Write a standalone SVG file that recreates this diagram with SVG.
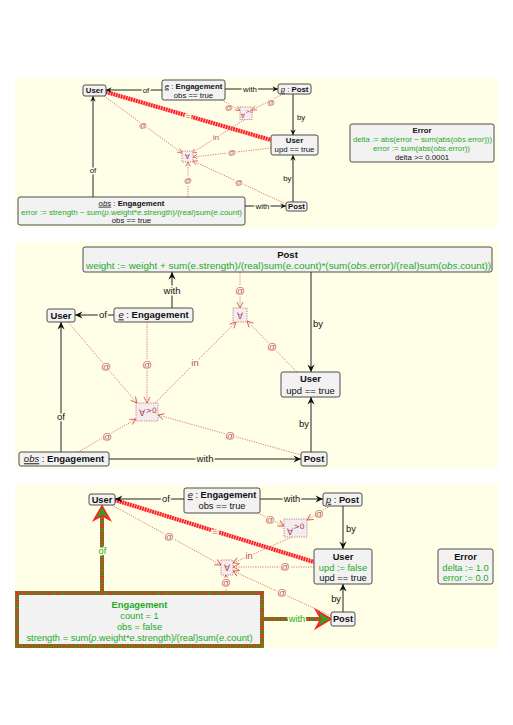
<svg xmlns="http://www.w3.org/2000/svg" width="513" height="725" viewBox="0 0 513 725">
<style>
text{font-family:"Liberation Sans",Arial,sans-serif;fill:#111}
.p1{font-size:7.8px}
.p2{font-size:9.5px}
.p3{font-size:9.3px}
.b{font-weight:bold}
.i{font-style:italic}
.u{font-style:italic;text-decoration:underline}
.g{fill:#1faa1f}
.m{text-anchor:middle}
.e{text-anchor:end}
.node{fill:#f2f2f2;stroke:#3a3a3a;stroke-width:0.9}
.panel{fill:#fffee6}
.edge{stroke:#222;stroke-width:1;fill:none}
.dot{stroke:#d35a5a;stroke-width:0.8;stroke-dasharray:1.2 1.2;fill:none}
.rl{fill:#c0504d}
.h{paint-order:stroke;stroke:#fffee6;stroke-width:3px;stroke-linejoin:round}
.q{fill:#f1edf1;stroke:#d35a5a;stroke-width:0.8;stroke-dasharray:1.2 1.2}
.qt{font-family:"DejaVu Sans",sans-serif;fill:#b04040;text-anchor:middle}
.del1{stroke:#ffb0b0;stroke-width:4}
.del2{stroke:#ff1a1a;stroke-width:4;stroke-dasharray:1.6 1}
.newg{stroke:#22aa22;stroke-width:4;fill:none}
.newr{stroke:#ff2020;stroke-width:4;stroke-dasharray:1.3 1.3;fill:none}
</style>
<defs>
<marker id="ba" viewBox="-8 -4 9 8" refX="0" refY="0" markerWidth="9" markerHeight="8" markerUnits="userSpaceOnUse" orient="auto"><path d="M0,0 L-7.5,-3.6 L-5,0 L-7.5,3.6 z" fill="#111"/></marker>
<marker id="bs" viewBox="-8 -4 9 8" refX="0" refY="0" markerWidth="6.75" markerHeight="6" markerUnits="userSpaceOnUse" orient="auto"><path d="M0,0 L-7.5,-3.6 L-5,0 L-7.5,3.6 z" fill="#111"/></marker>
<marker id="da" viewBox="-8 -4 9 8" refX="0" refY="0" markerWidth="9" markerHeight="8" markerUnits="userSpaceOnUse" orient="auto"><path d="M-6,-3 L0,0 L-6,3" fill="none" stroke="#d35a5a" stroke-width="0.9"/></marker>
<marker id="ds" viewBox="-8 -4 9 8" refX="0" refY="0" markerWidth="6.75" markerHeight="6" markerUnits="userSpaceOnUse" orient="auto"><path d="M-6,-3 L0,0 L-6,3" fill="none" stroke="#d35a5a" stroke-width="1"/></marker>
</defs>

<rect class="panel" x="15" y="78" width="483" height="150"/>
<rect class="panel" x="15" y="242" width="483" height="227"/>
<rect class="panel" x="15" y="485" width="483" height="164"/>

<g id="connectors">
<!-- panel 1 -->
<line class="del1" x1="106" y1="92" x2="271" y2="140"/>
<line class="del2" x1="106" y1="92" x2="271" y2="140"/>
<text class="p1 m h rl" x="188" y="118.5">=</text>
<line class="edge" x1="162" y1="90" x2="106" y2="90" marker-end="url(#bs)"/>
<text class="p1 m h" x="146" y="92.7">of</text>
<line class="edge" x1="225" y1="89" x2="278" y2="89" marker-end="url(#bs)"/>
<text class="p1 m h" x="250" y="91.7">with</text>
<line class="edge" x1="293" y1="94" x2="293" y2="135" marker-end="url(#bs)"/>
<text class="p1" x="297" y="120">by</text>
<line class="edge" x1="293" y1="202" x2="293" y2="155" marker-end="url(#bs)"/>
<text class="p1 e" x="291.5" y="181">by</text>
<line class="edge" x1="245" y1="206" x2="286" y2="206" marker-end="url(#bs)"/>
<text class="p1 m h" x="262.5" y="208.7">with</text>
<line class="edge" x1="93" y1="197" x2="93" y2="96" marker-end="url(#bs)"/>
<text class="p1 m h" x="93" y="172.7">of</text>

<line class="dot" x1="222" y1="100" x2="240" y2="110.5" marker-end="url(#ds)"/>
<text class="p1 m h rl" x="229" y="109.5">@</text>
<line class="dot" x1="283" y1="94" x2="252" y2="110" marker-end="url(#ds)"/>
<text class="p1 m h rl" x="271" y="104.5">@</text>
<line class="dot" x1="244" y1="120" x2="192" y2="153" marker-end="url(#ds)"/>
<text class="p1 m h rl" x="216" y="139.5">in</text>
<line class="dot" x1="104" y1="96" x2="182" y2="153" marker-end="url(#ds)"/>
<text class="p1 m h rl" x="143" y="127.5">@</text>
<line class="dot" x1="271" y1="148" x2="193" y2="157" marker-end="url(#ds)"/>
<text class="p1 m h rl" x="232" y="155">@</text>
<line class="dot" x1="286" y1="204" x2="193" y2="161" marker-end="url(#ds)"/>
<text class="p1 m h rl" x="239" y="184.5">@</text>
<line class="dot" x1="188" y1="197" x2="188" y2="162" marker-end="url(#ds)"/>
<text class="p1 m h rl" x="188" y="182.5">@</text>

<!-- panel 2 -->
<line class="edge" x1="114" y1="315" x2="75" y2="315" marker-end="url(#ba)"/>
<text class="p2 m h" x="103" y="318.3">of</text>
<line class="edge" x1="172" y1="308" x2="172" y2="272" marker-end="url(#ba)"/>
<text class="p2 m h" x="172" y="294.3">with</text>
<line class="edge" x1="311" y1="272" x2="311" y2="372" marker-end="url(#ba)"/>
<text class="p2" x="313" y="327.3">by</text>
<line class="edge" x1="311" y1="452" x2="311" y2="397" marker-end="url(#ba)"/>
<text class="p2 e" x="309" y="427.3">by</text>
<line class="edge" x1="109" y1="459" x2="301" y2="459" marker-end="url(#ba)"/>
<text class="p2 m h" x="205" y="462.3">with</text>
<line class="edge" x1="61" y1="452" x2="61" y2="322" marker-end="url(#ba)"/>
<text class="p2 m h" x="61" y="420.3">of</text>

<line class="dot" x1="240" y1="272" x2="240" y2="308" marker-end="url(#da)"/>
<text class="p2 m h rl" x="240" y="294">@</text>
<line class="dot" x1="68" y1="322" x2="137" y2="403" marker-end="url(#da)"/>
<text class="p2 m h rl" x="106" y="369.5">@</text>
<line class="dot" x1="147" y1="322" x2="147" y2="403" marker-end="url(#da)"/>
<text class="p2 m h rl" x="147" y="367.5">@</text>
<line class="dot" x1="155" y1="403" x2="236" y2="322" marker-end="url(#da)"/>
<text class="p2 m h rl" x="195" y="366">in</text>
<line class="dot" x1="78" y1="452" x2="136" y2="419" marker-end="url(#da)"/>
<text class="p2 m h rl" x="107" y="439.5">@</text>
<line class="dot" x1="301" y1="455" x2="158" y2="415" marker-end="url(#da)"/>
<text class="p2 m h rl" x="230" y="438.5">@</text>
<line class="dot" x1="297" y1="372" x2="247" y2="321" marker-end="url(#da)"/>
<text class="p2 m h rl" x="272" y="350">@</text>

<!-- panel 3 -->
<line class="del1" x1="115" y1="500" x2="314" y2="562"/>
<line class="del2" x1="115" y1="500" x2="314" y2="562"/>
<text class="p3 m h rl" x="215" y="534.5">=</text>
<line class="edge" x1="184" y1="499" x2="115" y2="499" marker-end="url(#ba)"/>
<text class="p3 m h" x="166" y="502.2">of</text>
<line class="edge" x1="260" y1="499" x2="323" y2="499" marker-end="url(#ba)"/>
<text class="p3 m h" x="292" y="502.2">with</text>
<line class="edge" x1="343" y1="506" x2="343" y2="549" marker-end="url(#ba)"/>
<text class="p3" x="346" y="532">by</text>
<line class="edge" x1="343" y1="612" x2="343" y2="584" marker-end="url(#ba)"/>
<text class="p3 e" x="341" y="602">by</text>

<line class="newg" x1="102" y1="593" x2="102" y2="515"/>
<line class="newr" x1="102" y1="593" x2="102" y2="515"/>
<polygon points="102,506 110,520 102,515.5 94,520" fill="#22aa22" stroke="#ff2020" stroke-width="1.6"/>
<text class="p3 m h g" x="102.5" y="554">of</text>
<line class="newg" x1="262" y1="619" x2="321" y2="619"/>
<line class="newr" x1="262" y1="619" x2="321" y2="619"/>
<polygon points="331,619 316,610 321,619 316,628" fill="#22aa22" stroke="#ff2020" stroke-width="1.6"/>
<text class="p3 m h g" x="297" y="622.2">with</text>

<line class="dot" x1="112" y1="505" x2="221" y2="565" marker-end="url(#da)"/>
<text class="p3 m h rl" x="169" y="539.5">@</text>
<line class="dot" x1="258" y1="513" x2="284" y2="526" marker-end="url(#da)"/>
<text class="p3 m h rl" x="270" y="523">@</text>
<line class="dot" x1="330" y1="506" x2="307" y2="520" marker-end="url(#da)"/>
<text class="p3 m h rl" x="319" y="516.5">@</text>
<line class="dot" x1="292" y1="537" x2="233" y2="563" marker-end="url(#da)"/>
<text class="p3 m h rl" x="249" y="558.5">in</text>
<line class="dot" x1="314" y1="567" x2="233" y2="567" marker-end="url(#da)"/>
<text class="p3 m h rl" x="285" y="570">@</text>
<line class="dot" x1="331" y1="616" x2="233" y2="571" marker-end="url(#da)"/>
<text class="p3 m h rl" x="282" y="596">@</text>
<line class="dot" x1="226" y1="593" x2="226" y2="575" marker-end="url(#da)"/>
<text class="p3 m h rl" x="226" y="586">@</text>
</g>

<!-- panel 1 nodes -->
<g id="p1-user"><rect class="node" x="83" y="85" width="23" height="11" rx="2"/><text class="p1 m b" x="94.5" y="93.3">User</text></g>
<g id="p1-e"><rect class="node" x="162" y="80" width="63" height="20" rx="2"/>
<text class="p1 m" x="193.5" y="88.5"><tspan class="u">e</tspan> : <tspan class="b">Engagement</tspan></text>
<text class="p1 m" x="193.5" y="97.5">obs == true</text></g>
<g id="p1-p"><rect class="node" x="278" y="84" width="33" height="10" rx="2"/><text class="p1 m" x="294.5" y="91.8"><tspan class="u">p</tspan> : <tspan class="b">Post</tspan></text></g>
<g id="p1-user2"><rect class="node" x="271" y="135" width="47" height="20" rx="2"/>
<text class="p1 m b" x="294.5" y="143.2">User</text>
<text class="p1 m" x="294.5" y="152.2">upd == true</text></g>
<g id="p1-error"><rect class="node" x="350" y="124" width="144" height="38" rx="2"/>
<text class="p1 m b" x="422" y="132.5">Error</text>
<text class="p1 m g" x="422.5" y="141.5" textLength="139" lengthAdjust="spacingAndGlyphs">delta := abs(error − sum(abs(<tspan class="i">obs</tspan>.error)))</text>
<text class="p1 m g" x="421.5" y="150.5" textLength="97" lengthAdjust="spacingAndGlyphs">error := sum(abs(<tspan class="i">obs</tspan>.error))</text>
<text class="p1 m" x="422" y="160">delta &gt;= 0.0001</text></g>
<g id="p1-post"><rect class="node" x="286" y="202" width="21" height="9" rx="2"/><text class="p1 m b" x="296.5" y="209.3">Post</text></g>
<g id="p1-obs"><rect class="node" x="18" y="197" width="227" height="28" rx="2"/>
<text class="p1 m" x="131.5" y="205.7"><tspan class="u">obs</tspan> : <tspan class="b">Engagement</tspan></text>
<text class="p1 m g" x="131.5" y="214.7" textLength="221" lengthAdjust="spacingAndGlyphs">error := strength − sum(<tspan class="i">p</tspan>.weight*<tspan class="i">e</tspan>.strength)/(real)sum(<tspan class="i">e</tspan>.count)</text>
<text class="p1 m" x="131.5" y="223.2">obs == true</text></g>
<g id="p1-forall0"><rect class="q" x="240" y="107" width="12" height="12.5"/><text class="qt" x="243" y="118.3" font-size="6.3">∀</text><text class="qt" x="249.2" y="113" font-size="4.8">&gt;0</text></g>
<g id="p1-forall"><rect class="q" x="182" y="151" width="11" height="11"/><text class="qt" x="187.5" y="159.3" font-size="7">∀</text></g>

<!-- panel 2 nodes -->
<g id="p2-post"><rect class="node" x="83" y="247" width="409" height="25" rx="2"/>
<text class="p2 m b" x="287.5" y="258.3">Post</text>
<text class="p2 m g" x="288.5" y="269" textLength="405" lengthAdjust="spacingAndGlyphs">weight := weight + sum(e.strength)/(real)sum(e.count)*(sum(<tspan class="i">obs</tspan>.error)/(real)sum(<tspan class="i">obs</tspan>.count))</text></g>
<g id="p2-user"><rect class="node" x="47" y="309" width="28" height="13" rx="2"/><text class="p2 m b" x="61" y="318.8">User</text></g>
<g id="p2-e"><rect class="node" x="114" y="308" width="79" height="14" rx="2"/><text class="p2 m" x="153.5" y="318.4"><tspan class="u">e</tspan> : <tspan class="b">Engagement</tspan></text></g>
<g id="p2-forall"><rect class="q" x="233" y="308" width="14" height="14"/><text class="qt" x="240" y="318.5" font-size="9">∀</text></g>
<g id="p2-forall0"><rect class="q" x="136" y="403" width="22" height="18"/><text class="qt" x="142" y="416" font-size="9">∀</text><text class="qt" x="151.3" y="412.5" font-size="7.5">&gt;0</text></g>
<g id="p2-user2"><rect class="node" x="281" y="372" width="59" height="25" rx="2"/>
<text class="p2 m b" x="310.5" y="382.3">User</text>
<text class="p2 m" x="310.5" y="394">upd == true</text></g>
<g id="p2-post2"><rect class="node" x="301" y="452" width="26" height="14" rx="2"/><text class="p2 m b" x="314" y="462.3">Post</text></g>
<g id="p2-obs"><rect class="node" x="19" y="452" width="90" height="14" rx="2"/><text class="p2 m" x="64" y="462.3"><tspan class="u">obs</tspan> : <tspan class="b">Engagement</tspan></text></g>

<!-- panel 3 nodes -->
<g id="p3-user"><rect class="node" x="89" y="494" width="26" height="11" rx="2"/><text class="p3 m b" x="102" y="502.8">User</text></g>
<g id="p3-e"><rect class="node" x="184" y="488" width="76" height="25" rx="2"/>
<text class="p3 m" x="222" y="498.2"><tspan class="u">e</tspan> : <tspan class="b">Engagement</tspan></text>
<text class="p3 m" x="222" y="509.2">obs == true</text></g>
<g id="p3-p"><rect class="node" x="323" y="493" width="39" height="13" rx="2"/><text class="p3 m" x="342.5" y="502.8"><tspan class="u">p</tspan> : <tspan class="b">Post</tspan></text></g>
<g id="p3-forall0"><rect class="q" x="284" y="519" width="23" height="18"/><text class="qt" x="290" y="535" font-size="9">∀</text><text class="qt" x="299" y="528.5" font-size="7.5">&gt;0</text></g>
<g id="p3-user2"><rect class="node" x="314" y="549" width="58" height="35" rx="2"/>
<text class="p3 m b" x="343" y="560.2">User</text>
<text class="p3 m g" x="343" y="570.8">upd := false</text>
<text class="p3 m" x="343" y="581.4">upd == true</text></g>
<g id="p3-error"><rect class="node" x="438" y="549" width="55" height="35" rx="2"/>
<text class="p3 m b" x="465.5" y="560.2">Error</text>
<text class="p3 m g" x="465.5" y="570.8">delta := 1.0</text>
<text class="p3 m g" x="465.5" y="581.4">error := 0.0</text></g>
<g id="p3-forall"><rect class="q" x="221" y="560" width="12" height="15"/><text class="qt" x="227" y="570.8" font-size="9">∀</text></g>
<g id="p3-post"><rect class="node" x="331" y="612" width="24" height="14" rx="2"/><text class="p3 m b" x="343" y="622.3">Post</text></g>
<g id="p3-engagement"><rect x="17" y="593" width="245" height="53" fill="#f2f2f2"/>
<rect class="newg" x="17" y="593" width="245" height="53"/>
<rect class="newr" x="17" y="593" width="245" height="53"/>
<text class="p3 m b g" x="139.5" y="608.2">Engagement</text>
<text class="p3 m g" x="139.5" y="619.2">count = 1</text>
<text class="p3 m g" x="139.5" y="630.2">obs = false</text>
<text class="p3 m g" x="139.5" y="641.2">strength = sum(<tspan class="i">p</tspan>.weight*<tspan class="i">e</tspan>.strength)/(real)sum(<tspan class="i">e</tspan>.count)</text></g>
</svg>
